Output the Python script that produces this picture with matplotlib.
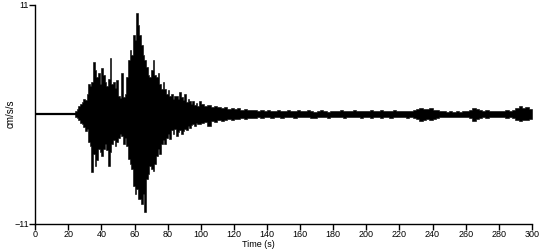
import numpy as np
import matplotlib
matplotlib.use("Agg")
import matplotlib.pyplot as plt

plt.rcParams['font.family'] = ['Liberation Sans', 'DejaVu Sans']

# envelope of the record (cm/s/s)
# strong motion: 1 s bins starting at 24 s
strong_start = 24
strong_hi = [0.3, 0.5, 0.8, 1.0, 1.2, 1.5, 1.4, 2.0, 3.0, 2.8,
             3.2, 5.3, 4.5, 3.8, 4.2, 3.0, 4.7, 4.0, 3.2, 2.8,
             3.5, 5.7, 3.0, 3.2, 2.6, 3.4, 1.8, 1.6, 4.2, 1.7,
             2.0, 3.8, 5.5, 6.5, 6.0, 8.0, 7.5, 10.2, 9.0, 8.0,
             7.0, 6.0, 5.5, 4.8, 4.0, 3.8, 4.5, 5.5, 4.0, 3.8,
             4.2, 3.0, 2.5, 3.2, 2.5, 2.0, 2.4, 1.8, 2.0, 1.5,
             1.8, 1.8, 1.5, 2.2, 1.7, 1.4, 2.0, 1.2, 1.5, 1.3,
             1.0, 1.3, 0.9, 1.1, 0.8, 1.3]
strong_lo = [-0.3, -0.4, -0.6, -0.9, -1.0, -1.3, -1.7, -1.5, -2.8, -3.2,
             -5.8, -4.0, -5.2, -4.6, -3.5, -3.8, -4.2, -3.5, -3.0, -3.6,
             -5.2, -3.8, -3.0, -2.6, -3.2, -2.8, -2.4, -2.0, -2.2, -3.0,
             -2.4, -3.2, -4.5, -5.0, -5.5, -7.2, -8.0, -7.5, -8.5, -8.5,
             -9.0, -8.0, -9.8, -6.5, -6.0, -5.2, -5.5, -5.7, -5.0, -4.2,
             -3.5, -4.0, -3.0, -2.6, -3.0, -2.4, -2.0, -2.5, -1.6, -2.0,
             -1.5, -2.2, -1.8, -1.6, -2.0, -1.7, -1.5, -1.6, -1.2, -1.4,
             -1.1, -1.0, -1.2, -0.9, -1.0, -1.0]

# coda: 2 s bins starting at 100 s
coda_start = 100
coda_hi = [1.0, 0.8, 0.9, 0.7, 0.8, 0.7, 0.6, 0.7, 0.55, 0.6,
           0.5, 0.6, 0.45, 0.5, 0.4, 0.45, 0.4, 0.35, 0.45, 0.3,
           0.4, 0.35, 0.3, 0.45, 0.35, 0.3, 0.4, 0.3, 0.35, 0.4,
           0.3, 0.35, 0.45, 0.3, 0.25, 0.35, 0.4, 0.3, 0.25, 0.3,
           0.35, 0.3, 0.4, 0.3, 0.35, 0.3, 0.4, 0.35, 0.3, 0.35,
           0.3, 0.4, 0.35, 0.3, 0.45, 0.3, 0.35, 0.3, 0.4, 0.3,
           0.35, 0.3, 0.3, 0.35, 0.4, 0.5, 0.6, 0.55, 0.5, 0.6,
           0.45, 0.4, 0.3, 0.35, 0.25, 0.3, 0.25, 0.3, 0.25, 0.3,
           0.35, 0.4, 0.6, 0.5, 0.4, 0.35, 0.4, 0.3, 0.35, 0.3,
           0.35, 0.3, 0.4, 0.35, 0.4, 0.6, 0.8, 0.6, 0.7, 0.5]
coda_lo = [-0.9, -0.8, -1.2, -0.7, -0.8, -0.6, -0.7, -0.6, -0.5, -0.55,
           -0.45, -0.5, -0.4, -0.45, -0.35, -0.4, -0.35, -0.3, -0.35, -0.3,
           -0.3, -0.35, -0.3, -0.25, -0.35, -0.3, -0.25, -0.3, -0.35, -0.3,
           -0.3, -0.25, -0.3, -0.35, -0.4, -0.3, -0.25, -0.3, -0.35, -0.3,
           -0.25, -0.3, -0.3, -0.35, -0.3, -0.25, -0.3, -0.3, -0.35, -0.3,
           -0.3, -0.35, -0.3, -0.3, -0.35, -0.3, -0.3, -0.35, -0.3, -0.3,
           -0.3, -0.3, -0.35, -0.3, -0.4, -0.5, -0.65, -0.55, -0.5, -0.6,
           -0.45, -0.4, -0.3, -0.3, -0.25, -0.3, -0.25, -0.25, -0.3, -0.25,
           -0.3, -0.35, -0.7, -0.5, -0.35, -0.3, -0.35, -0.3, -0.3, -0.3,
           -0.3, -0.3, -0.35, -0.3, -0.35, -0.6, -0.7, -0.6, -0.55, -0.45]

x_ticks = list(range(0, 301, 20))

t_strong = strong_start + np.arange(len(strong_hi)) * 1.0
t_coda = coda_start + np.arange(len(coda_hi)) * 2.0
t = np.concatenate([t_strong, t_coda, [t_coda[-1] + 2]])
hi = np.array(strong_hi + coda_hi + coda_hi[-1:])
lo = np.array(strong_lo + coda_lo + coda_lo[-1:])

fig = plt.figure(figsize=(5.5, 2.5), dpi=100)
ax = fig.add_axes([0.064, 0.106, 0.903, 0.874])

ax.plot([0, strong_start], [0, 0], color='black', lw=1.6)
ax.fill_between(t, lo, hi, step='post', color='black', lw=0.4)

ax.set_xlim(0, 300)
ax.set_ylim(-11, 11)
ax.set_xticks(x_ticks)
ax.set_yticks([-11, 11])
ax.tick_params(axis='both', direction='out', length=4, width=1, labelsize=6.5, pad=0.5)
for s in ['top', 'right']:
    ax.spines[s].set_visible(False)
for s in ['left', 'bottom']:
    ax.spines[s].set_linewidth(1)

ax.set_xlabel('Time (s)', fontsize=6.5, labelpad=0)
ax.xaxis.set_label_coords(0.45, -0.075)
ax.set_ylabel('cm/s/s', fontsize=7)
ax.yaxis.set_label_coords(-0.04, 0.5)

fig.savefig('out.png', dpi=100)
